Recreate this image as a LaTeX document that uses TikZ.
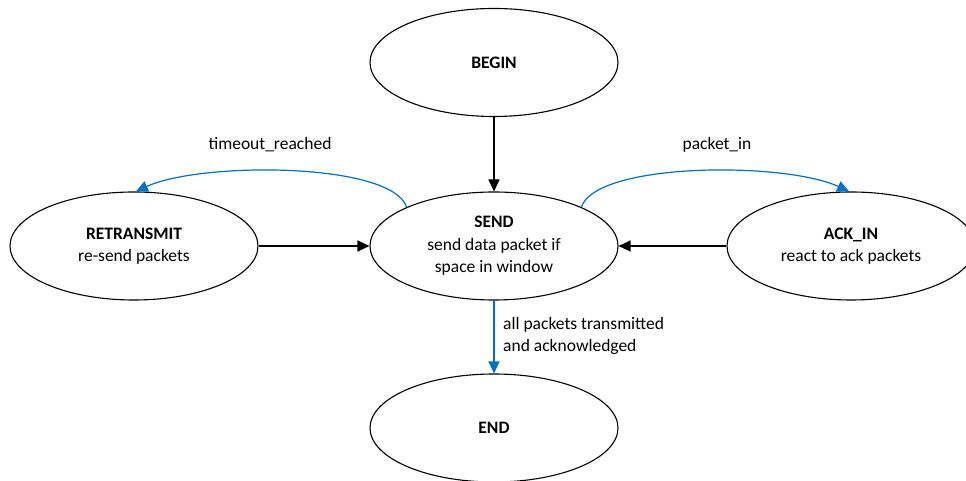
\documentclass[tikz,border=0pt]{standalone}
\usepackage{fontspec}
\setmainfont{Carlito}
\usetikzlibrary{shapes.geometric,arrows.meta}
\definecolor{officeblue}{HTML}{0070C0}
\tikzset{
  state/.style={draw=black, line width=1.1pt, ellipse, minimum width=248pt, minimum height=108pt, inner sep=0pt, align=center, font=\fontsize{17.5}{22.5}\selectfont},
  blackarrow/.style={draw=black, line width=1.2pt, -{Triangle[length=12pt,width=11pt]}},
  bluearrow/.style={draw=officeblue, line width=1.2pt, -{Triangle[length=12pt,width=11pt]}},
  lbl/.style={font=\fontsize{17.5}{22.5}\selectfont, inner sep=0pt, align=left}
}
\begin{document}
\begin{tikzpicture}[x=1pt,y=1pt]
\useasboundingbox (0,0) rectangle (966,481);
\node[state] (begin) at (494,418.5) {\textbf{BEGIN}};
\node[state] (send) at (494,235) {\textbf{SEND}\\send data packet if\\space in window};
\node[state] (retx) at (134,235) {\textbf{RETRANSMIT}\\re-send packets};
\node[state] (ack) at (851,235) {\textbf{ACK\_IN}\\react to ack packets};
\node[state] (end) at (494,53) {\textbf{END}};

\draw[blackarrow] (begin) -- (send);
\draw[blackarrow] (retx) -- (send);
\draw[blackarrow] (ack) -- (send);
\draw[bluearrow] (send) -- (end);
\draw[bluearrow] (send.156) .. controls +(-15,45) and +(65,30) .. (retx.88);
\draw[bluearrow] (send.24) .. controls +(15,45) and +(-65,30) .. (ack.92);

\node[lbl] (lto) at (270,336) {timeout\_reached};
\node[lbl] (lpi) at (717,336) {packet\_in};
\node[lbl, anchor=west] (lall) at (503,145) {all packets transmitted\\and acknowledged};
\end{tikzpicture}
\end{document}
